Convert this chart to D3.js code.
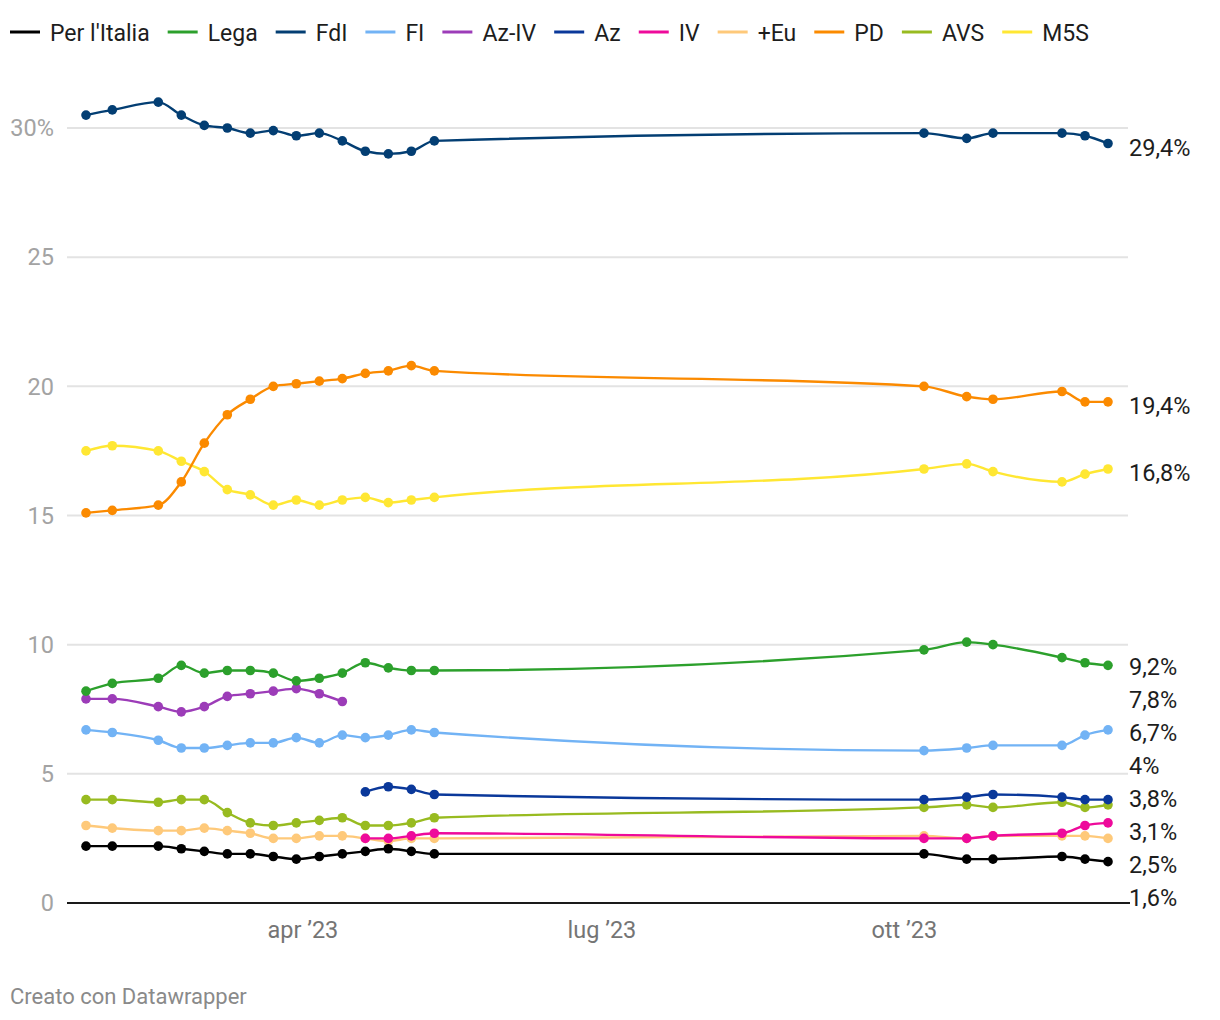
<!DOCTYPE html>
<html>
<head>
<meta charset="utf-8">
<script src="https://cdn.jsdelivr.net/npm/d3@7"></script>
<style>
  html, body { margin: 0; padding: 0; background: #fff; }
  svg { display: block; font-family: Roboto, "Noto Sans", sans-serif; }
</style>
</head>
<body>
<svg id="chart" width="1220" height="1020"></svg>
<script>
// ---------- DATA ----------
const dates = ["2023-01-25","2023-02-02","2023-02-16","2023-02-23","2023-03-02","2023-03-09","2023-03-16","2023-03-23","2023-03-30","2023-04-06","2023-04-13","2023-04-20","2023-04-27","2023-05-04","2023-05-11","2023-10-07","2023-10-20","2023-10-28","2023-11-18","2023-11-25","2023-12-02"];

const seriesNames = ["Per l'Italia","Lega","FdI","FI","Az-IV","Az","IV","+Eu","PD","AVS","M5S"];
const seriesColors = ["#000000","#2ca02c","#033e73","#72b3f5","#9c3cb8","#0a389a","#ee0a9b","#fec97a","#fb8a00","#98bb20","#ffe733"];

const perItalia = [2.2,2.2,2.2,2.1,2.0,1.9,1.9,1.8,1.7,1.8,1.9,2.0,2.1,2.0,1.9, 1.9,1.7,1.7,1.8,1.7,1.6];
const lega      = [8.2,8.5,8.7,9.2,8.9,9.0,9.0,8.9,8.6,8.7,8.9,9.3,9.1,9.0,9.0, 9.8,10.1,10.0,9.5,9.3,9.2];
const fdi       = [30.5,30.7,31.0,30.5,30.1,30.0,29.8,29.9,29.7,29.8,29.5,29.1,29.0,29.1,29.5, 29.8,29.6,29.8,29.8,29.7,29.4];
const fi        = [6.7,6.6,6.3,6.0,6.0,6.1,6.2,6.2,6.4,6.2,6.5,6.4,6.5,6.7,6.6, 5.9,6.0,6.1,6.1,6.5,6.7];
const azIv      = [7.9,7.9,7.6,7.4,7.6,8.0,8.1,8.2,8.3,8.1,7.8, null,null,null,null, null,null,null,null,null,null];
const az        = [null,null,null,null,null,null,null,null,null,null,null, 4.3,4.5,4.4,4.2, 4.0,4.1,4.2,4.1,4.0,4.0];
const iv        = [null,null,null,null,null,null,null,null,null,null,null, 2.5,2.5,2.6,2.7, 2.5,2.5,2.6,2.7,3.0,3.1];
const piuEu     = [3.0,2.9,2.8,2.8,2.9,2.8,2.7,2.5,2.5,2.6,2.6,2.5,2.4,2.5,2.5, 2.6,2.5,2.6,2.6,2.6,2.5];
const pd        = [15.1,15.2,15.4,16.3,17.8,18.9,19.5,20.0,20.1,20.2,20.3,20.5,20.6,20.8,20.6, 20.0,19.6,19.5,19.8,19.4,19.4];
const avs       = [4.0,4.0,3.9,4.0,4.0,3.5,3.1,3.0,3.1,3.2,3.3,3.0,3.0,3.1,3.3, 3.7,3.8,3.7,3.9,3.7,3.8];
const m5s       = [17.5,17.7,17.5,17.1,16.7,16.0,15.8,15.4,15.6,15.4,15.6,15.7,15.5,15.6,15.7, 16.8,17.0,16.7,16.3,16.6,16.8];

const seriesValues = [perItalia, lega, fdi, fi, azIv, az, iv, piuEu, pd, avs, m5s];

const yTicks = [0,5,10,15,20,25,30];
const xTicks = ["2023-04-01","2023-07-01","2023-10-01"];
const xTickLabels = ["apr \u201923","lug \u201923","ott \u201923"];
const footerText = "Creato con Datawrapper";

// ---------- SETUP ----------
const parse = d3.utcParse("%Y-%m-%d");
const dateObjs = dates.map(parse);
const svg = d3.select("#chart");
const FONT = 23.5;

const x = d3.scaleUtc().domain(d3.extent(dateObjs)).range([86, 1108]);
const y = d3.scaleLinear().domain([0, 30]).range([903, 128]);
const gridLeft = 67, gridRight = 1128;

const series = seriesNames.map((name, i) => ({
  name, color: seriesColors[i],
  points: seriesValues[i].map((v, j) => ({ date: dateObjs[j], value: v })).filter(p => p.value != null)
}));

// ---------- GRID ----------
const grid = svg.append("g");
grid.selectAll("line").data(yTicks.filter(t => t > 0)).join("line")
  .attr("x1", gridLeft).attr("x2", gridRight)
  .attr("y1", d => y(d)).attr("y2", d => y(d))
  .attr("stroke", "#e3e3e3").attr("stroke-width", 2);

// y labels
svg.append("g").selectAll("text").data(yTicks).join("text")
  .attr("x", 54).attr("y", d => y(d) + 8.3)
  .attr("text-anchor", "end")
  .attr("font-size", FONT).attr("fill", "#a3a3a3")
  .text(d => d === 30 ? d + "%" : d);

// baseline
svg.append("line")
  .attr("x1", gridLeft).attr("x2", 1130)
  .attr("y1", y(0)).attr("y2", y(0))
  .attr("stroke", "#1a1a1a").attr("stroke-width", 2);

// x labels
svg.append("g").selectAll("text").data(xTicks).join("text")
  .attr("x", d => x(parse(d))).attr("y", 938)
  .attr("text-anchor", "middle")
  .attr("font-size", FONT).attr("fill", "#757575")
  .text((d, i) => xTickLabels[i]);

// ---------- LINES ----------
const line = d3.line().x(d => x(d.date)).y(d => y(d.value)).curve(d3.curveMonotoneX);
const drawOrder = series.slice().reverse();
const sg = svg.append("g").selectAll("g").data(drawOrder).join("g");
sg.append("path")
  .attr("d", d => line(d.points))
  .attr("fill", "none").attr("stroke", d => d.color)
  .attr("stroke-width", 2.4).attr("stroke-linejoin", "round").attr("stroke-linecap", "round");
sg.selectAll("circle").data(d => d.points.map(p => ({...p, color: d.color}))).join("circle")
  .attr("cx", d => x(d.date)).attr("cy", d => y(d.value))
  .attr("r", 4.8).attr("fill", d => d.color);

// ---------- END LABELS (collision avoidance) ----------
const gap = 33;
const labels = series.map(s => {
  const last = s.points[s.points.length - 1];
  return { text: d3.format(".1f")(last.value).replace(".", ",").replace(",0", "") + "%", desired: y(last.value) };
}).sort((a, b) => a.desired - b.desired);
let clusters = [];
labels.forEach(l => {
  clusters.push({ items: [l], pos: l.desired });
  while (clusters.length > 1) {
    const b = clusters[clusters.length - 1], a = clusters[clusters.length - 2];
    if (a.pos + a.items.length * gap > b.pos) {
      const items = a.items.concat(b.items);
      const pos = d3.mean(items, (it, k) => it.desired - k * gap);
      clusters.splice(clusters.length - 2, 2, { items, pos });
    } else break;
  }
});
clusters.forEach(c => c.items.forEach((it, k) => it.pos = c.pos + k * gap));
svg.append("g").selectAll("text").data(labels).join("text")
  .attr("x", 1129).attr("y", d => d.pos + 12.4)
  .attr("font-size", FONT).attr("fill", "#1d1d1d")
  .text(d => d.text);

// ---------- LEGEND ----------
const legend = svg.append("g");
let lx = 10;
series.forEach(s => {
  legend.append("line").attr("x1", lx).attr("x2", lx + 30).attr("y1", 32).attr("y2", 32)
    .attr("stroke", s.color).attr("stroke-width", 3);
  const t = legend.append("text").attr("x", lx + 40).attr("y", 40.5)
    .attr("font-size", 23).attr("fill", "#1d1d1d").text(s.name);
  lx += 40 + t.node().getComputedTextLength() + 18;
});

// ---------- FOOTER ----------
svg.append("text").attr("x", 10).attr("y", 1004)
  .attr("font-size", 22).attr("fill", "#8a8a8a").text(footerText);
</script>
</body>
</html>
